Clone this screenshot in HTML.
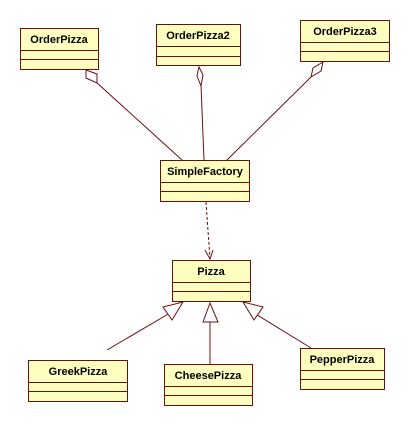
<!DOCTYPE html>
<html><head><style>
body{margin:0;background:#fff;width:410px;height:426px;overflow:hidden}
</style></head><body>
<svg width="410" height="426" xmlns="http://www.w3.org/2000/svg" font-family="Liberation Sans, sans-serif" font-weight="bold" font-size="11">
<g stroke="#6b0f0f" stroke-width="1" fill="none">
<line x1="96" y1="82" x2="182" y2="160"/>
<polygon points="86,70 97,74 97,83 86,78" fill="#fff"/>
<line x1="201" y1="85" x2="204" y2="160"/>
<polygon points="199,67 203,75 201,86 197,76" fill="#fff"/>
<line x1="311" y1="77" x2="227" y2="160"/>
<polygon points="323,62 321,71 311,77 313,68" fill="#fff"/>
<line x1="206" y1="202" x2="210" y2="259" stroke-dasharray="3,2"/>
<polyline points="205,250 210,259 213,250"/>
<line x1="107" y1="350" x2="170" y2="313"/>
<polygon points="183,302 163,307 172,320" fill="#fff"/>
<line x1="210" y1="322" x2="210" y2="364"/>
<polygon points="210,303 203,322 218,322" fill="#fff"/>
<line x1="311" y1="348" x2="254" y2="313"/>
<polygon points="243,302 263,307 254,320" fill="#fff"/>
</g>
<g fill="#ffffc0" stroke="#6b0f0f" stroke-width="1">
<rect x="20.5" y="28.5" width="78" height="41"/><path d="M20.5 50.5H98.5M20.5 59.5H98.5"/>
<rect x="156.5" y="24.5" width="84" height="41"/><path d="M156.5 46.5H240.5M156.5 56.5H240.5"/>
<rect x="300.5" y="20.5" width="89" height="41"/><path d="M300.5 42.5H389.5M300.5 51.5H389.5"/>
<rect x="160.5" y="160.5" width="89" height="41"/><path d="M160.5 182.5H249.5M160.5 191.5H249.5"/>
<rect x="172.5" y="260.5" width="78" height="41"/><path d="M172.5 282.5H250.5M172.5 291.5H250.5"/>
<rect x="28.5" y="360.5" width="99" height="41"/><path d="M28.5 382.5H127.5M28.5 391.5H127.5"/>
<rect x="164.5" y="364.5" width="88" height="41"/><path d="M164.5 386.5H252.5M164.5 395.5H252.5"/>
<rect x="300.5" y="348.5" width="84" height="41"/><path d="M300.5 370.5H384.5M300.5 379.5H384.5"/>
</g>
<g fill="#000" text-anchor="middle">
<text x="59" y="43">OrderPizza</text>
<text x="198" y="39">OrderPizza2</text>
<text x="345" y="35">OrderPizza3</text>
<text x="205" y="175">SimpleFactory</text>
<text x="211" y="275">Pizza</text>
<text x="78" y="375">GreekPizza</text>
<text x="208" y="379">CheesePizza</text>
<text x="342" y="363">PepperPizza</text>
</g>
</svg>
</body></html>
